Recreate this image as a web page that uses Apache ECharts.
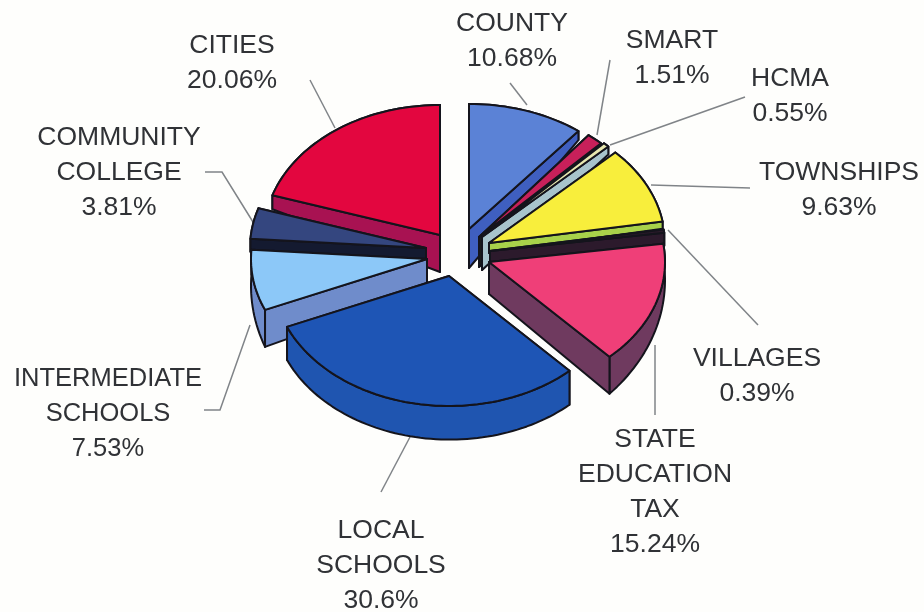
<!DOCTYPE html>
<html><head><meta charset="utf-8">
<style>html,body{margin:0;padding:0;background:#fefefc}#c{width:924px;height:612px;filter:blur(0.5px)}</style>
<script src="https://cdn.jsdelivr.net/npm/echarts@6/dist/echarts.min.js"></script>
</head><body><div id="c"></div>
<script>
const sliceNames = ['COUNTY','SMART','HCMA','TOWNSHIPS','VILLAGES','STATE EDUCATION TAX','LOCAL SCHOOLS','INTERMEDIATE SCHOOLS','COMMUNITY COLLEGE','CITIES'];
const sliceValues = [10.68,1.51,0.55,9.63,0.39,15.24,30.6,7.53,3.81,20.06];
const labelLines = [['COUNTY'],['SMART'],['HCMA'],['TOWNSHIPS'],['VILLAGES'],['STATE','EDUCATION','TAX'],['LOCAL','SCHOOLS'],['INTERMEDIATE','SCHOOLS'],['COMMUNITY','COLLEGE'],['CITIES']];

// styling and layout, separate from the values
const topColors  = ['#5b82d6','#c8205a','#e8e8b0','#f8ee3c','#2a1a2a','#ef3f78','#1e55b5','#8cc8f8','#34467f','#e3063f'];
const wallColors = ['#3f5fc0','#1a1a1a','#a8c4cc','#a8d24a','#2c1a2c','#6f3a5f','#1f55b0','#6f8ccb','#141a30','#a81252'];
const pieCenter = [462,250], rx = 176, ry = 130;
const explode = [[7,-21,125],[17,-13,130],[20,-13,130],[27,-7,130],[28,1,130],[27,12,130],[-13,26,130],[-35,9,130],[-36,-2,130],[-22,-15,130]]; // dx, dy, ry
const depths = [[39,10,9],[30,8,8],[33,8,8],[10,8,7],[14,13,13],[32,15,37],[30,34,33],[30,37,25],[13,13,13],[37,14,13]]; // apex, rim start, rim end
const drawOrder = [9,0,1,2,3,4,8,7,5,6];
const labelPos = [[512,24],[672,41],[790,79],[839,173],[757,359],[655,440],[381,531],[108,379],[119,138],[232,46]];
const lineGap = 34.8, fontSize = 26.5, narrowFontSize = 25.5, narrowLabels = [7];
const leaders = [[[510,83],[527,105]],[[610,60],[597,135]],[[745,97],[610,145]],[[750,188],[651,185]],[[758,325],[668,230]],[[655,345],[655,415]],[[410,437],[381,492]],[[204,410],[220,410],[250,325]],[[205,172],[222,172],[253,222]],[[310,80],[335,128]]];

const total = sliceValues.reduce((a,b)=>a+b,0);
const starts = []; let acc = 0;
sliceValues.forEach(v=>{starts.push(acc/total*2*Math.PI); acc+=v;});

function rimPts(i){
  const a0=starts[i], a1=a0+sliceValues[i]/total*2*Math.PI;
  const n=Math.max(3,Math.ceil((a1-a0)/0.03)), ax=pieCenter[0]+explode[i][0], ay=pieCenter[1]+explode[i][1], r=explode[i][2];
  const pts=[];
  for(let k=0;k<=n;k++){const t=a0+(a1-a0)*k/n; pts.push([ax+rx*Math.sin(t),ay-r*Math.cos(t),k/n]);}
  return {ax,ay,a0,a1,pts};
}
function sliceElements(i){
  const {ax,ay,a0,a1,pts}=rimPts(i), d=depths[i];
  const rd=p=>d[1]+(d[2]-d[1])*p[2];
  const sty=c=>({fill:c,stroke:'#14141c',lineWidth:2,lineJoin:'round'});
  const first=pts[0], last=pts[pts.length-1];
  const poly=(points,c)=>({type:'polygon',shape:{points},style:sty(c)});
  const rim=poly(pts.map(p=>[p[0],p[1]]).concat(pts.slice().reverse().map(p=>[p[0],p[1]+rd(p)])),wallColors[i]);
  const quad=p=>poly([[ax,ay],[p[0],p[1]],[p[0],p[1]+rd(p)],[ax,ay+d[0]]],wallColors[i]);
  const front=first[1]>last[1]?first:last, back=front===first?last:first;
  const spansBottom=a0<Math.PI&&a1>Math.PI;
  const walls=spansBottom?[quad(back),quad(front),rim]:[quad(back),rim,quad(front)];
  return walls.concat([poly([[ax,ay]].concat(pts.map(p=>[p[0],p[1]])),topColors[i])]);
}
function labelElements(i){
  const lines=labelLines[i].concat([sliceValues[i]+'%']), [x,y]=labelPos[i];
  const size=narrowLabels.includes(i)?narrowFontSize:fontSize;
  return lines.map((s,k)=>({type:'text',style:{text:s,x,y:y+k*lineGap,align:'center',verticalAlign:'middle',
    fill:'#303236',font:size+'px "Liberation Sans", Arial, sans-serif'}}));
}
const chart=echarts.init(document.getElementById('c'),null,{renderer:'canvas'});
chart.setOption({
  animation:false,
  backgroundColor:'#fefefc',
  series:[
    {type:'custom',coordinateSystem:'none',silent:true,z:1,data:sliceNames.map((n,i)=>[i]),
      renderItem:(p,api)=>{const i=api.value(0);return {type:'polyline',shape:{points:leaders[i]},style:{fill:'none',stroke:'#808488',lineWidth:1.5}};}},
    {type:'custom',coordinateSystem:'none',silent:true,z:2,data:drawOrder.map(i=>({name:sliceNames[i],value:[i,sliceValues[i]]})),
      renderItem:(p,api)=>({type:'group',children:sliceElements(api.value(0))})},
    {type:'custom',coordinateSystem:'none',silent:true,z:3,data:sliceNames.map((n,i)=>[i]),
      renderItem:(p,api)=>({type:'group',children:labelElements(api.value(0))})}
  ]
});
</script></body></html>
